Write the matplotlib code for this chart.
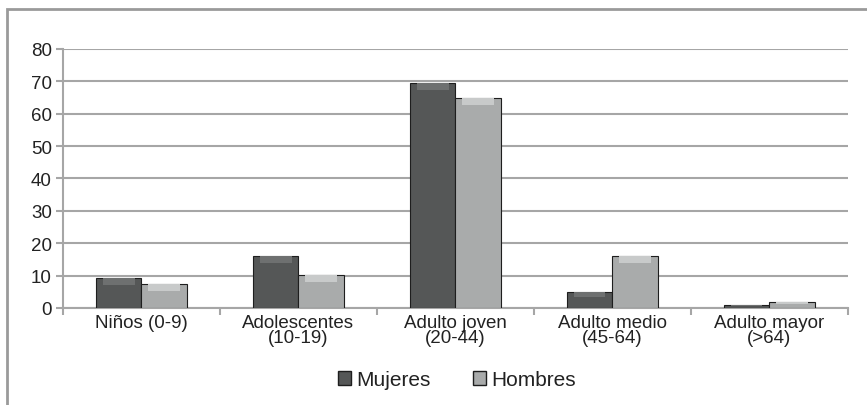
import numpy as np
import matplotlib.pyplot as plt
from matplotlib.patches import Rectangle, Patch

plt.rcParams['font.family'] = ['Liberation Sans', 'DejaVu Sans']

categories = ['Niños (0-9)', 'Adolescentes\n(10-19)', 'Adulto joven\n(20-44)',
              'Adulto medio\n(45-64)', 'Adulto mayor\n(>64)']
mujeres = [9.3, 16.0, 69.5, 5.0, 1.0]
hombres = [7.3, 10.2, 64.8, 16.0, 1.8]

dark = '#555757'
light = '#a9abab'
grid_c = '#a6a6a6'

fig = plt.figure(figsize=(8.67, 4.06), dpi=100)
ax = fig.add_axes([0.0727, 0.239, 0.905, 0.638])

x = np.arange(len(categories))
w = 0.29

def bevel_bars(xpos, vals, color, hi):
    ax.bar(xpos, vals, w, color=color, edgecolor='#1e1e1e', linewidth=0.8, zorder=3)
    # lighter top strip to mimic the bevel
    top = [min(2.2, v * 0.3) for v in vals]
    ax.bar(xpos, top, w * 0.7, bottom=[v - t for v, t in zip(vals, top)],
           color=hi, linewidth=0, zorder=4)

bevel_bars(x - w / 2, mujeres, dark, '#6e7070')
bevel_bars(x + w / 2, hombres, light, '#c8caca')

ax.set_xlim(-0.5, len(categories) - 0.5)
ax.set_ylim(0, 80)
ax.set_yticks(range(0, 81, 10))
ax.yaxis.grid(True, color=grid_c, linewidth=1.5, zorder=0)
ax.set_axisbelow(True)

ax.set_xticks(x)
ax.set_xticklabels(categories, fontsize=13.5, color='#222222', linespacing=0.9)
ax.tick_params(axis='x', length=0, pad=4)
ax.set_xticks(np.arange(-0.5, len(categories)), minor=True)
ax.tick_params(axis='x', which='minor', length=5, width=1.5, color=grid_c)
ax.tick_params(axis='y', length=5, width=1.5, color=grid_c, labelsize=13.5,
               labelcolor='#222222', pad=3)

for s in ['top', 'right']:
    ax.spines[s].set_visible(False)
for s in ['left', 'bottom']:
    ax.spines[s].set_color(grid_c)
    ax.spines[s].set_linewidth(1.5)

handles = [Patch(facecolor=dark, edgecolor='#1e1e1e', label='Mujeres'),
           Patch(facecolor=light, edgecolor='#1e1e1e', label='Hombres')]
fig.legend(handles=handles, loc='center', bbox_to_anchor=(0.527, 0.063), ncol=2,
           frameon=False, fontsize=15, handlelength=0.65, handleheight=0.65,
           handletextpad=0.25, columnspacing=2.0, labelcolor='#222222')

fig.patches.append(Rectangle((0.008, -0.1), 1.1, 1.075, transform=fig.transFigure,
                             fill=False, edgecolor='#9a9a9a', linewidth=2))

fig.savefig('out.png', dpi=100)
